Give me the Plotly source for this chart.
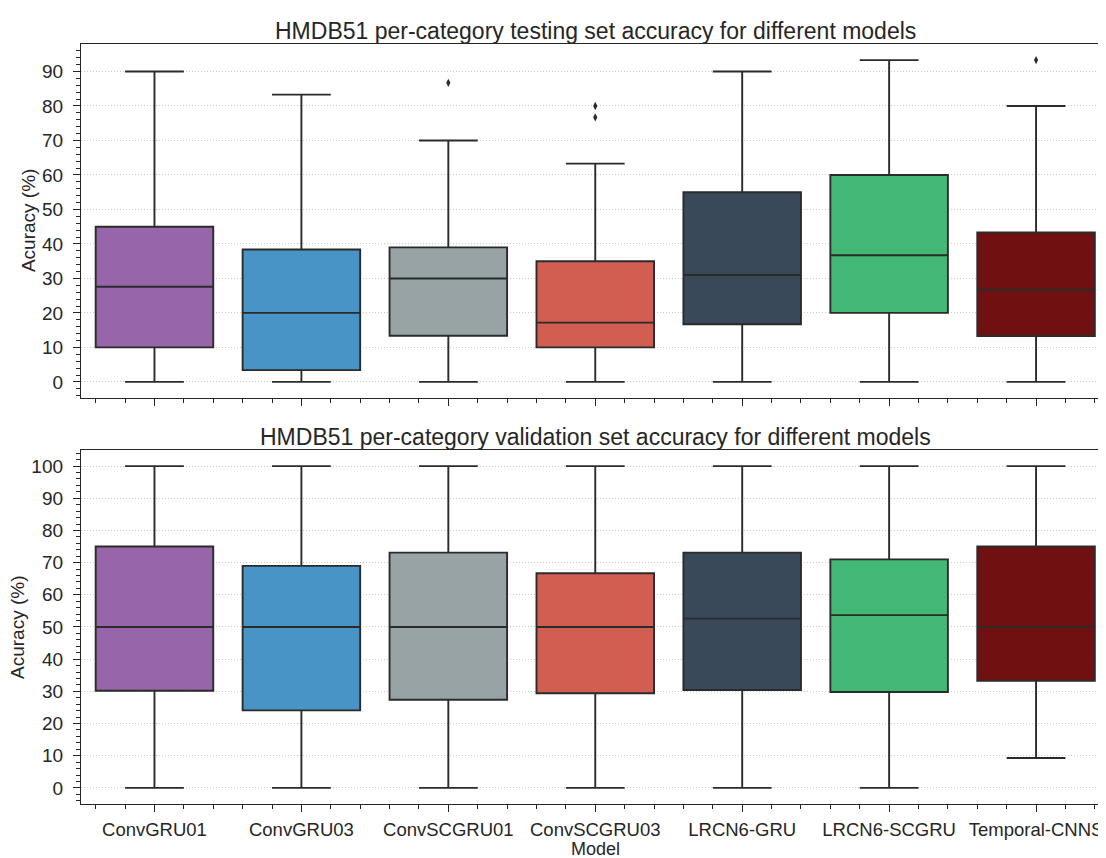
import plotly.graph_objects as go

models = ["ConvGRU01", "ConvGRU03", "ConvSCGRU01", "ConvSCGRU03",
          "LRCN6-GRU", "LRCN6-SCGRU", "Temporal-CNNS"]

# Testing set (top panel)
test_lower = [0.0, 0.0, 0.0, 0.0, 0.0, 0.0, 0.0]
test_q1 = [10.0, 3.4, 13.4, 10.0, 16.7, 20.0, 13.3]
test_median = [27.6, 20.0, 30.0, 17.2, 31.0, 36.7, 26.7]
test_q3 = [45.0, 38.4, 39.0, 35.0, 55.0, 60.0, 43.3]
test_upper = [90.0, 83.3, 70.0, 63.3, 90.0, 93.3, 80.0]
test_outlier_model = ["ConvSCGRU01", "ConvSCGRU03", "ConvSCGRU03", "Temporal-CNNS"]
test_outlier_value = [86.7, 80.0, 76.7, 93.3]

# Validation set (bottom panel)
val_lower = [0.0, 0.0, 0.0, 0.0, 0.0, 0.0, 9.3]
val_q1 = [30.2, 24.1, 27.4, 29.4, 30.4, 29.8, 33.3]
val_median = [50.0, 50.0, 50.0, 50.0, 52.6, 53.7, 50.0]
val_q3 = [75.0, 69.0, 73.1, 66.7, 73.1, 71.0, 75.0]
val_upper = [100.0, 100.0, 100.0, 100.0, 100.0, 100.0, 100.0]

colors = ["#9665aa", "#4994c6", "#97a3a4", "#d25d51", "#394959", "#42b874", "#701010"]
edge = "#2b2b2b"
text_color = "#262626"
FONT = "Liberation Sans, Arial, sans-serif"

fig = go.Figure()


def add_boxes(lower, q1, med, q3, upper, xa, ya):
    for i, m in enumerate(models):
        fig.add_trace(go.Box(
            x=[i], lowerfence=[lower[i]], q1=[q1[i]], median=[med[i]],
            q3=[q3[i]], upperfence=[upper[i]],
            width=0.8, whiskerwidth=0.5, fillcolor=colors[i],
            line=dict(color=edge, width=1.9), boxpoints=False,
            name=m, xaxis=xa, yaxis=ya, showlegend=False, hoverinfo="skip"))


add_boxes(test_lower, test_q1, test_median, test_q3, test_upper, "x", "y")
add_boxes(val_lower, val_q1, val_median, val_q3, val_upper, "x2", "y2")

fig.add_trace(go.Scatter(
    x=[models.index(m) for m in test_outlier_model], y=test_outlier_value,
    mode="markers", marker=dict(symbol="diamond-tall", size=6, color=edge),
    xaxis="x", yaxis="y", showlegend=False, hoverinfo="skip"))

xr = [-0.5, 6.476]
common_x = dict(range=xr, tickmode="array", tickvals=list(range(len(models))),
                ticks="outside", ticklen=7, tickwidth=1.3, tickcolor=text_color,
                minor=dict(ticks="outside", ticklen=4, tickwidth=1, tickcolor=text_color,
                           dtick=0.2, tick0=0, showgrid=False),
                showline=True, linecolor=text_color, linewidth=1.3, mirror=True,
                showgrid=False, zeroline=False, fixedrange=True,
                tickfont=dict(size=18.5, color=text_color, family=FONT))
common_y = dict(dtick=10, tick0=0, ticks="outside", ticklen=7, tickwidth=1.3,
                tickcolor=text_color,
                minor=dict(ticks="outside", ticklen=4, tickwidth=1, tickcolor=text_color,
                           dtick=2, tick0=0, showgrid=False),
                showline=True, linecolor=text_color, linewidth=1.3,
                showgrid=True, gridcolor="#c8c8c8", griddash="1px,2px", gridwidth=1,
                zeroline=False, ticklabelstandoff=6,
                tickfont=dict(size=19, color=text_color, family=FONT))

# page has an 8px body margin, so the figure is 8px smaller and offset
fig.update_layout(
    width=1098, height=850,
    margin=dict(l=73, r=0, t=36, b=54),
    plot_bgcolor="white", paper_bgcolor="white",
    font=dict(family=FONT, color=text_color),
    showlegend=False,
    xaxis=dict(domain=[0, 1], anchor="y", showticklabels=False, **common_x),
    yaxis=dict(domain=[0.5342, 1], anchor="x", range=[-4.67, 97.97], **common_y),
    xaxis2=dict(domain=[0, 1], anchor="y2", ticktext=models, ticklabelstandoff=2, **common_x),
    yaxis2=dict(domain=[0, 0.4658], anchor="x2", range=[-5, 105], **common_y),
    annotations=[
        dict(text="HMDB51 per-category testing set accuracy for different models",
             x=0.5015, y=1.0171, xref="paper", yref="paper", showarrow=False,
             xanchor="center", yanchor="middle", font=dict(size=23, color=text_color, family=FONT)),
        dict(text="HMDB51 per-category validation set accuracy for different models",
             x=0.5015, y=0.4829, xref="paper", yref="paper", showarrow=False,
             xanchor="center", yanchor="middle", font=dict(size=23, color=text_color, family=FONT)),
        dict(text="Model", x=0.5015, y=-0.0586, xref="paper", yref="paper", showarrow=False,
             xanchor="center", yanchor="middle", borderpad=0,
             font=dict(size=18, color=text_color, family=FONT)),
        dict(text="Acuracy (%)", x=-0.0517, y=0.767, xref="paper", yref="paper",
             showarrow=False, textangle=-90, xanchor="center", yanchor="middle",
             font=dict(size=19, color=text_color, family=FONT)),
        dict(text="Acuracy (%)", x=-0.0615, y=0.2329, xref="paper", yref="paper",
             showarrow=False, textangle=-90, xanchor="center", yanchor="middle",
             font=dict(size=19, color=text_color, family=FONT)),
    ],
)

fig.write_html("out.html")
